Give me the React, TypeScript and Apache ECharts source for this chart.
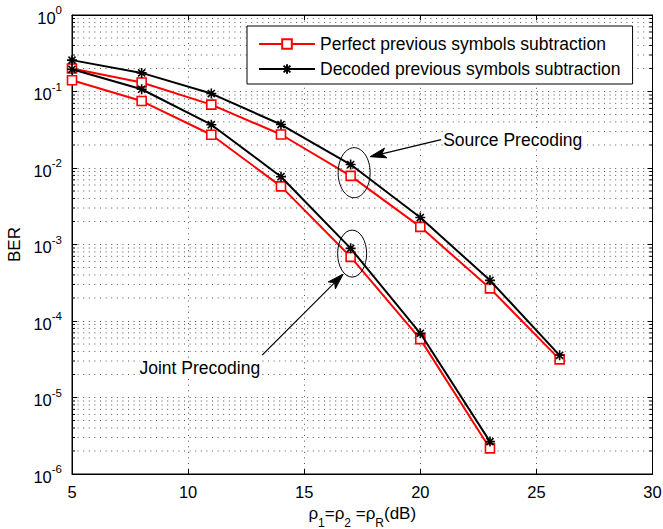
import React, { useEffect, useRef } from "react";
import * as echarts from "echarts";

const xJoint = [5, 8, 11, 14, 17, 20, 23];
const perfectJoint = [0.14, 0.075, 0.0272, 0.00575, 6.9e-4, 5.8e-5, 2.16e-6];
const decodedJoint = [0.195, 0.107, 0.0368, 0.0077, 8.9e-4, 6.9e-5, 2.65e-6];
const xSource = [5, 8, 11, 14, 17, 20, 23, 26];
const perfectSource = [0.2, 0.131, 0.0673, 0.0274, 0.0079, 0.0017, 2.67e-4, 3.15e-5];
const decodedSource = [0.257, 0.175, 0.094, 0.037, 0.0111, 0.00225, 3.4e-4, 3.56e-5];

const xTicks = [5, 10, 15, 20, 25, 30];
const decades = [-6, -5, -4, -3, -2, -1];
const minorMultipliers = [2, 3, 4, 5, 6, 7, 8, 9];

const NAME_P = "Perfect previous symbols subtraction";
const NAME_D = "Decoded previous symbols subtraction";
const FONT = "'Liberation Sans', Arial, Helvetica, sans-serif";
const STAR = "path://M0,5L10,5M5,0L5,10M1.46,1.46L8.54,8.54M8.54,1.46L1.46,8.54";
const DOT: any = [1, 4.6];
const GRID_COLOR = "#555";

function zip(xs: number[], ys: number[]) {
  return xs.map((x, i) => [x, ys[i]]);
}

export default function App() {
  const ref = useRef<HTMLDivElement>(null);
  useEffect(() => {
    document.body.style.margin = "0";
    const chart = echarts.init(ref.current!, null, { renderer: "svg" });
    const minorVals: number[][] = [];
    decades.forEach((d) => minorMultipliers.forEach((m) => minorVals.push([xTicks[0], m * Math.pow(10, d)])));

    const redLine = {
      type: "line",
      name: NAME_P,
      symbol: "rect",
      symbolSize: 9,
      showAllSymbol: true,
      lineStyle: { color: "#ff0000", width: 2 },
      itemStyle: { color: "#ffffff", borderColor: "#ff0000", borderWidth: 1.6 },
      z: 3,
    };
    const blackLine = {
      type: "line",
      name: NAME_D,
      symbol: STAR,
      symbolSize: 10,
      showAllSymbol: true,
      lineStyle: { color: "#000000", width: 2 },
      itemStyle: { color: "#000000", borderColor: "#000000", borderWidth: 1.6 },
      z: 4,
    };

    const yLabel = {
      fontFamily: FONT,
      color: "#000",
      margin: 10,
      formatter: (v: number) => "{b|10}{s|" + Math.round(Math.log10(v)) + "}",
      rich: {
        b: { fontSize: 16.5, lineHeight: 22, verticalAlign: "bottom", fontFamily: FONT, color: "#000" },
        s: { fontSize: 11.5, lineHeight: 11, verticalAlign: "top", fontFamily: FONT, color: "#000" },
      },
    };

    const option: any = {
      animation: false,
      backgroundColor: "#fff",
      grid: {
        left: 72,
        right: 10.5,
        top: 15,
        bottom: 55,
        containLabel: false,
        outerBoundsMode: "none",
        show: true,
        borderColor: "#000",
        borderWidth: 1,
        backgroundColor: "transparent",
      },
      legend: {
        data: [NAME_P, NAME_D],
        orient: "vertical",
        left: 247,
        top: 26,
        itemWidth: 56,
        itemHeight: 12,
        itemGap: 7,
        padding: [9, 12, 6, 11],
        borderColor: "#000",
        borderWidth: 1,
        backgroundColor: "#fff",
        textStyle: { fontFamily: FONT, fontSize: 17.5, color: "#000", lineHeight: 18 },
      },
      xAxis: [
        {
          type: "value",
          min: 5,
          max: 30,
          interval: 5,
          name: "{r|ρ}{sub|1}{r|=ρ}{sub|2}{r| =ρ}{sub|R}{r|(dB)}",
          nameLocation: "middle",
          nameGap: 29,
          nameTextStyle: {
            rich: {
              r: { fontSize: 17, lineHeight: 24, verticalAlign: "top", fontFamily: FONT, color: "#000" },
              sub: { fontSize: 12, lineHeight: 12, verticalAlign: "bottom", fontFamily: FONT, color: "#000" },
            },
          },
          axisLine: { show: true, lineStyle: { color: "#000", width: 1 } },
          axisTick: { show: true, inside: true, length: 5, lineStyle: { color: "#000" } },
          axisLabel: { fontFamily: FONT, fontSize: 16.5, color: "#000", margin: 9 },
          splitLine: { show: true, lineStyle: { color: GRID_COLOR, width: 1, type: DOT } },
        },
        {
          type: "value",
          min: 5,
          max: 30,
          interval: 5,
          position: "top",
          axisLine: { show: true, lineStyle: { color: "#000", width: 1 } },
          axisTick: { show: true, inside: true, length: 5, lineStyle: { color: "#000" } },
          axisLabel: { show: false },
          splitLine: { show: false },
        },
      ],
      yAxis: [
        {
          type: "log",
          logBase: 10,
          min: 1e-6,
          max: 1,
          interval: 1,
          splitNumber: 6,
          name: "BER",
          nameLocation: "middle",
          nameGap: 46,
          nameTextStyle: { fontFamily: FONT, fontSize: 17, color: "#000" },
          axisLine: { show: true, lineStyle: { color: "#000", width: 1 } },
          axisTick: { show: true, inside: true, length: 5, lineStyle: { color: "#000" } },
          axisLabel: yLabel,
          splitLine: { show: true, lineStyle: { color: GRID_COLOR, width: 1, type: DOT } },
        },
        {
          type: "log",
          logBase: 10,
          min: 1e-6,
          max: 1,
          interval: 1,
          splitNumber: 6,
          position: "right",
          axisLine: { show: true, lineStyle: { color: "#000", width: 1 } },
          axisTick: { show: true, inside: true, length: 5, lineStyle: { color: "#000" } },
          axisLabel: { show: false },
          splitLine: { show: false },
        },
      ],
      series: [
        {
          type: "custom",
          silent: true,
          z: 1,
          data: minorVals,
          encode: { x: 0, y: 1 },
          renderItem: (params: any, api: any) => {
            const v = api.value(1);
            const p1 = api.coord([xTicks[0], v]);
            const p2 = api.coord([xTicks[xTicks.length - 1], v]);
            return {
              type: "group",
              children: [
                { type: "line", shape: { x1: p1[0], y1: p1[1], x2: p2[0], y2: p2[1] }, style: { stroke: GRID_COLOR, lineWidth: 1, lineDash: DOT } },
                { type: "line", shape: { x1: p1[0], y1: p1[1], x2: p1[0] + 3, y2: p1[1] }, style: { stroke: "#000", lineWidth: 1 } },
                { type: "line", shape: { x1: p2[0] - 3, y1: p2[1], x2: p2[0], y2: p2[1] }, style: { stroke: "#000", lineWidth: 1 } },
              ],
            };
          },
        },
        { ...redLine, data: zip(xSource, perfectSource) },
        { ...blackLine, data: zip(xSource, decodedSource) },
        { ...redLine, data: zip(xJoint, perfectJoint) },
        { ...blackLine, data: zip(xJoint, decodedJoint) },
      ],
    };
    chart.setOption(option);

    const px = (x: number, y: number) => chart.convertToPixel({ xAxisIndex: 0, yAxisIndex: 0 }, [x, y]) as number[];
    const sIdx = xSource.indexOf(17);
    const jIdx = xJoint.indexOf(17);
    const sp = px(17, Math.sqrt(perfectSource[sIdx] * decodedSource[sIdx]));
    const jp = px(17, Math.sqrt(perfectJoint[jIdx] * decodedJoint[jIdx]));
    const c1 = [sp[0] + 3.5, sp[1] + 2.5];
    const c2 = [jp[0] + 1.5, jp[1] + 1];

    const arrow = (sx: number, sy: number, tx: number, ty: number) => {
      const dx = tx - sx, dy = ty - sy;
      const L = Math.sqrt(dx * dx + dy * dy);
      const ux = dx / L, uy = dy / L;
      const hl = 16, hw = 5;
      const bx = tx - ux * hl, by = ty - uy * hl;
      const mx = tx - ux * hl * 0.75, my = ty - uy * hl * 0.75;
      return [
        { type: "line", shape: { x1: sx, y1: sy, x2: mx, y2: my }, style: { stroke: "#000", lineWidth: 1.2 } },
        {
          type: "polygon",
          shape: { points: [[tx, ty], [bx - uy * hw, by + ux * hw], [mx, my], [bx + uy * hw, by - ux * hw]] },
          style: { fill: "#000", stroke: "#000", lineWidth: 1 },
        },
      ];
    };

    const graphic: any[] = [
      { type: "ellipse", shape: { cx: c1[0], cy: c1[1], rx: 16, ry: 25 }, style: { fill: "none", stroke: "#000", lineWidth: 1 }, z: 10 },
      { type: "ellipse", shape: { cx: c2[0], cy: c2[1], rx: 14.5, ry: 23.5 }, style: { fill: "none", stroke: "#000", lineWidth: 1 }, z: 10 },
      ...arrow(c1[0] + 87, c1[1] - 33, c1[0] + 16, c1[1] - 16).map((g) => ({ ...g, z: 10 })),
      ...arrow(c2[0] - 90, c2[1] + 101.5, c2[0] - 9, c2[1] + 20.5).map((g) => ({ ...g, z: 10 })),
      {
        type: "text",
        x: c1[0] + 89,
        y: c1[1] - 33,
        z: 10,
        style: { text: "Source Precoding", fontFamily: FONT, fontSize: 17.5, fill: "#000", backgroundColor: "#fff", align: "left", verticalAlign: "middle" },
      },
      {
        type: "text",
        x: c2[0] - 92,
        y: c2[1] + 114,
        z: 10,
        style: { text: "Joint Precoding", fontFamily: FONT, fontSize: 17.5, fill: "#000", backgroundColor: "#fff", align: "right", verticalAlign: "middle" },
      },
    ];
    chart.setOption({ graphic });

    return () => chart.dispose();
  }, []);
  return <div ref={ref} style={{ position: "absolute", left: 0, top: 0, width: 663, height: 529 }} />;
}
